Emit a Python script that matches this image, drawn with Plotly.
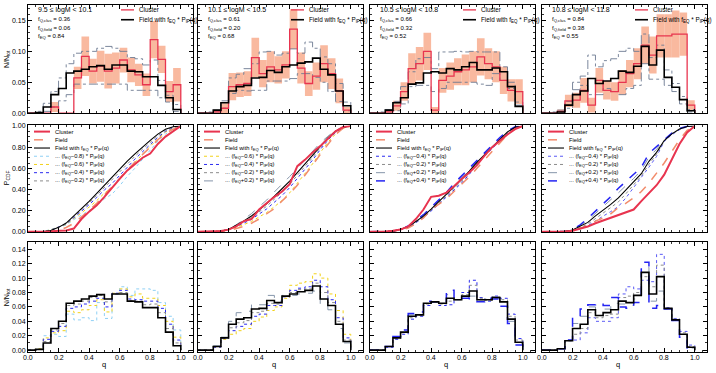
import plotly.graph_objects as go
import numpy as np

W, H = 716, 373
FONT = "Liberation Sans, Arial, sans-serif"

# ---------------- data ----------------
q_edges = [0.0, 0.05, 0.1, 0.15, 0.2, 0.25, 0.3, 0.35, 0.4, 0.45, 0.5,
           0.55, 0.6, 0.65, 0.7, 0.75, 0.8, 0.85, 0.9, 0.95, 1.0]
x_ticks = [0.0, 0.2, 0.4, 0.6, 0.8, 1.0]
x_tick_labels = ["0.0", "0.2", "0.4", "0.6", "0.8", "1.0"]

mass_labels = ["9.5 ≤ logM < 10.1", "10.1 ≤ logM < 10.5",
               "10.5 ≤ logM < 10.8", "10.8 ≤ logM < 11.8"]
fq_clus = [0.36, 0.61, 0.66, 0.84]
fq_field = [0.06, 0.20, 0.32, 0.38]
f_eq = [0.84, 0.68, 0.52, 0.55]

# cluster histograms (N/N_tot) and their errors
clus_hist_1 = [0, 0, 0, 0.010, 0, 0, 0.057, 0.092, 0.068, 0.076, 0.068, 0.073, 0.086, 0.070, 0.062, 0.046, 0.119, 0.087, 0.035, 0.046]
clus_err_1 = [0, 0, 0, 0.008, 0, 0, 0.018, 0.032, 0.020, 0.025, 0.028, 0.025, 0.020, 0.020, 0.018, 0.018, 0.030, 0.022, 0.017, 0.027]
clus_hist_2 = [0, 0, 0.002, 0.008, 0.043, 0.046, 0.048, 0.090, 0.064, 0.075, 0.070, 0.078, 0.136, 0.073, 0.048, 0.060, 0.080, 0.064, 0.036, 0.005]
clus_err_2 = [0, 0, 0.002, 0.008, 0.022, 0.020, 0.020, 0.032, 0.022, 0.025, 0.022, 0.022, 0.032, 0.025, 0.020, 0.022, 0.030, 0.025, 0.020, 0.005]
clus_hist_3 = [0, 0, 0.002, 0.012, 0.035, 0.072, 0.080, 0.100, 0.005, 0.053, 0.060, 0.067, 0.070, 0.075, 0.091, 0.080, 0.075, 0.053, 0.037, 0.035]
clus_err_3 = [0, 0, 0.002, 0.008, 0.015, 0.025, 0.027, 0.030, 0.005, 0.020, 0.022, 0.022, 0.025, 0.025, 0.030, 0.025, 0.025, 0.022, 0.018, 0.020]
clus_hist_4 = [0, 0, 0.003, 0.020, 0.021, 0.037, 0.013, 0.053, 0.037, 0.035, 0.050, 0.064, 0.080, 0.110, 0.094, 0.125, 0.125, 0.128, 0.128, 0.013]
clus_err_4 = [0, 0, 0.003, 0.010, 0.012, 0.020, 0.012, 0.020, 0.015, 0.015, 0.020, 0.022, 0.025, 0.030, 0.030, 0.035, 0.035, 0.038, 0.035, 0.008]

# field-model envelopes (dash-dot)
env_hi_1 = [0, 0.003, 0.016, 0.035, 0.057, 0.080, 0.097, 0.100, 0.100, 0.105, 0.108, 0.105, 0.100, 0.090, 0.088, 0.078, 0.086, 0.053, 0.029, 0.014]
env_lo_1 = [0, 0, 0.003, 0.010, 0.020, 0.030, 0.047, 0.047, 0.047, 0.047, 0.047, 0.047, 0.047, 0.037, 0.037, 0.037, 0.037, 0.025, 0.018, 0.003]
env_hi_2 = [0, 0.002, 0.005, 0.020, 0.057, 0.063, 0.072, 0.080, 0.099, 0.100, 0.094, 0.097, 0.104, 0.097, 0.115, 0.105, 0.091, 0.080, 0.048, 0.018]
env_lo_2 = [0, 0, 0.002, 0.008, 0.032, 0.037, 0.036, 0.037, 0.037, 0.052, 0.052, 0.052, 0.056, 0.064, 0.064, 0.058, 0.050, 0.035, 0.019, 0.004]
env_hi_3 = [0, 0.002, 0.006, 0.019, 0.043, 0.067, 0.088, 0.090, 0.072, 0.099, 0.099, 0.100, 0.099, 0.100, 0.099, 0.099, 0.099, 0.075, 0.050, 0.018]
env_lo_3 = [0, 0, 0.002, 0.004, 0.015, 0.043, 0.045, 0.045, 0.035, 0.040, 0.050, 0.050, 0.050, 0.050, 0.047, 0.045, 0.064, 0.053, 0.040, 0.013]
env_hi_4 = [0, 0.002, 0.005, 0.019, 0.050, 0.060, 0.094, 0.075, 0.085, 0.088, 0.100, 0.105, 0.100, 0.128, 0.090, 0.110, 0.070, 0.048, 0.027, 0.006]
env_lo_4 = [0, 0, 0.002, 0.008, 0.038, 0.045, 0.030, 0.030, 0.040, 0.035, 0.030, 0.040, 0.045, 0.080, 0.055, 0.055, 0.045, 0.035, 0.015, 0.002]

# field with f_EQ * P_IP(q) histograms
model_hist_1 = [0, 0.001, 0.010, 0.030, 0.040, 0.065, 0.068, 0.071, 0.075, 0.077, 0.071, 0.078, 0.078, 0.068, 0.067, 0.059, 0.059, 0.045, 0.025, 0.006]
model_hist_2 = [0, 0, 0.005, 0.017, 0.036, 0.043, 0.045, 0.057, 0.058, 0.069, 0.066, 0.075, 0.078, 0.081, 0.083, 0.089, 0.071, 0.062, 0.036, 0.012]
model_hist_3 = [0, 0, 0.005, 0.017, 0.025, 0.047, 0.049, 0.065, 0.067, 0.065, 0.072, 0.070, 0.075, 0.082, 0.070, 0.070, 0.073, 0.067, 0.043, 0.011]
model_hist_4 = [0, 0, 0.002, 0.013, 0.030, 0.036, 0.056, 0.048, 0.052, 0.056, 0.068, 0.066, 0.076, 0.108, 0.078, 0.102, 0.058, 0.042, 0.022, 0.004]

# variations of f_EQ
var_m08_1 = [0, 0.002, 0.020, 0.022, 0.019, 0.050, 0.042, 0.045, 0.041, 0.066, 0.044, 0.078, 0.088, 0.076, 0.085, 0.085, 0.083, 0.066, 0.047, 0.028]
var_m06_1 = [0, 0.002, 0.017, 0.024, 0.027, 0.054, 0.052, 0.056, 0.062, 0.070, 0.053, 0.079, 0.085, 0.074, 0.078, 0.072, 0.072, 0.062, 0.040, 0.018]
var_m04_1 = [0, 0.001, 0.015, 0.026, 0.033, 0.058, 0.060, 0.064, 0.068, 0.072, 0.060, 0.079, 0.083, 0.071, 0.070, 0.068, 0.068, 0.058, 0.036, 0.014]
var_m02_1 = [0, 0.001, 0.012, 0.028, 0.037, 0.062, 0.064, 0.068, 0.073, 0.076, 0.067, 0.078, 0.080, 0.069, 0.068, 0.063, 0.064, 0.052, 0.030, 0.010]

var_m06_2 = [0, 0, 0.004, 0.015, 0.022, 0.027, 0.030, 0.040, 0.046, 0.055, 0.060, 0.072, 0.090, 0.093, 0.095, 0.106, 0.100, 0.078, 0.055, 0.022]
var_m04_2 = [0, 0, 0.004, 0.016, 0.027, 0.033, 0.036, 0.047, 0.050, 0.062, 0.062, 0.074, 0.083, 0.086, 0.088, 0.097, 0.088, 0.070, 0.045, 0.017]
var_m02_2 = [0, 0, 0.005, 0.017, 0.031, 0.038, 0.041, 0.052, 0.054, 0.065, 0.064, 0.075, 0.080, 0.084, 0.085, 0.093, 0.080, 0.066, 0.040, 0.014]
var_p02_2 = [0, 0, 0.006, 0.018, 0.040, 0.052, 0.054, 0.064, 0.063, 0.076, 0.068, 0.076, 0.076, 0.078, 0.079, 0.082, 0.062, 0.056, 0.030, 0.010]

var_m04_3 = [0, 0, 0.004, 0.015, 0.022, 0.043, 0.047, 0.062, 0.067, 0.062, 0.063, 0.070, 0.080, 0.097, 0.073, 0.068, 0.075, 0.072, 0.050, 0.016]
var_m02_3 = [0, 0, 0.005, 0.016, 0.024, 0.045, 0.048, 0.064, 0.067, 0.064, 0.068, 0.070, 0.077, 0.090, 0.072, 0.069, 0.074, 0.070, 0.047, 0.014]
var_p02_3 = [0, 0, 0.005, 0.018, 0.026, 0.049, 0.051, 0.066, 0.067, 0.066, 0.077, 0.070, 0.073, 0.075, 0.068, 0.071, 0.072, 0.064, 0.040, 0.009]
var_p04_3 = [0, 0, 0.005, 0.019, 0.028, 0.051, 0.053, 0.068, 0.067, 0.068, 0.083, 0.071, 0.072, 0.068, 0.067, 0.072, 0.071, 0.061, 0.037, 0.007]

var_m04_4 = [0, 0, 0.002, 0.013, 0.014, 0.024, 0.045, 0.040, 0.040, 0.045, 0.078, 0.088, 0.085, 0.097, 0.095, 0.133, 0.059, 0.044, 0.026, 0.007]
var_m02_4 = [0, 0, 0.002, 0.013, 0.022, 0.030, 0.052, 0.045, 0.048, 0.050, 0.073, 0.075, 0.080, 0.102, 0.088, 0.118, 0.058, 0.043, 0.024, 0.005]
var_p02_4 = [0, 0, 0.002, 0.014, 0.037, 0.047, 0.060, 0.057, 0.057, 0.065, 0.064, 0.062, 0.071, 0.115, 0.068, 0.082, 0.057, 0.041, 0.020, 0.003]
var_p04_4 = [0, 0, 0.002, 0.014, 0.044, 0.057, 0.063, 0.065, 0.062, 0.073, 0.060, 0.058, 0.066, 0.122, 0.058, 0.062, 0.057, 0.041, 0.018, 0.003]

# cumulative distributions read at the bin edges
clus_cdf_1 = [0, 0, 0, 0.003, 0.010, 0.012, 0.030, 0.120, 0.190, 0.250, 0.330, 0.420, 0.500, 0.580, 0.640, 0.700, 0.740, 0.830, 0.900, 0.950, 1.0]
field_cdf_1 = [0, 0, 0.002, 0.005, 0.012, 0.040, 0.080, 0.140, 0.200, 0.270, 0.350, 0.430, 0.500, 0.580, 0.660, 0.730, 0.800, 0.870, 0.930, 0.970, 1.0]
clus_cdf_2 = [0, 0, 0.002, 0.006, 0.020, 0.050, 0.100, 0.120, 0.210, 0.270, 0.330, 0.380, 0.450, 0.620, 0.680, 0.750, 0.810, 0.880, 0.950, 0.990, 1.0]
field_cdf_2 = [0, 0, 0.002, 0.005, 0.010, 0.030, 0.050, 0.080, 0.120, 0.170, 0.220, 0.290, 0.360, 0.440, 0.530, 0.630, 0.730, 0.830, 0.920, 0.980, 1.0]
clus_cdf_3 = [0, 0, 0.002, 0.010, 0.020, 0.050, 0.120, 0.210, 0.330, 0.340, 0.370, 0.430, 0.500, 0.560, 0.630, 0.720, 0.800, 0.860, 0.920, 0.970, 1.0]
field_cdf_3 = [0, 0, 0.002, 0.006, 0.015, 0.035, 0.075, 0.130, 0.210, 0.260, 0.310, 0.380, 0.450, 0.520, 0.600, 0.680, 0.760, 0.840, 0.920, 0.980, 1.0]
clus_cdf_4 = [0, 0, 0, 0.003, 0.010, 0.030, 0.050, 0.080, 0.105, 0.130, 0.160, 0.185, 0.210, 0.290, 0.370, 0.440, 0.540, 0.680, 0.830, 0.940, 1.0]
field_cdf_4 = [0, 0, 0.001, 0.004, 0.010, 0.030, 0.060, 0.100, 0.130, 0.170, 0.230, 0.270, 0.320, 0.380, 0.460, 0.550, 0.650, 0.760, 0.870, 0.960, 1.0]

clus_hists = [clus_hist_1, clus_hist_2, clus_hist_3, clus_hist_4]
clus_errs = [clus_err_1, clus_err_2, clus_err_3, clus_err_4]
env_his = [env_hi_1, env_hi_2, env_hi_3, env_hi_4]
env_los = [env_lo_1, env_lo_2, env_lo_3, env_lo_4]
model_hists = [model_hist_1, model_hist_2, model_hist_3, model_hist_4]
clus_cdfs = [clus_cdf_1, clus_cdf_2, clus_cdf_3, clus_cdf_4]
field_cdfs = [field_cdf_1, field_cdf_2, field_cdf_3, field_cdf_4]

# variation definitions per column: (label offset, data, colour, dash, width)
LB, YE, BL, GR, GD, BD = "#8fd0f5", "#f2d21b", "#2b2bf0", "#8c8c8c", "#8595aa", "#2424f2"
variations = [
    [("−0.8", var_m08_1, LB, "dot", 1.0), ("−0.6", var_m06_1, YE, "dot", 1.0),
     ("−0.4", var_m04_1, BL, "dot", 1.0), ("−0.2", var_m02_1, GR, "dot", 1.0)],
    [("−0.6", var_m06_2, YE, "dot", 1.0), ("−0.4", var_m04_2, BL, "dot", 1.0),
     ("−0.2", var_m02_2, GR, "dot", 1.0), ("+0.2", var_p02_2, GD, "dash", 1.0)],
    [("−0.4", var_m04_3, BL, "dot", 1.0), ("−0.2", var_m02_3, GR, "dot", 1.0),
     ("+0.2", var_p02_3, GD, "dash", 1.0), ("+0.4", var_p04_3, BD, "dash", 1.5)],
    [("−0.4", var_m04_4, "#5a5af5", "dot", 1.0), ("−0.2", var_m02_4, GR, "dot", 1.0),
     ("+0.2", var_p02_4, GD, "dash", 1.0), ("+0.4", var_p04_4, BD, "dash", 1.5)],
]

RED = "#e8344f"
SALMON_FILL = "#f9b99f"
SALMON = "#f28c6c"
SLATE = "#6d7b92"

# ---------------- layout geometry (pixels) ----------------
col_px = [(28, 193), (198, 363), (370, 535), (542, 707)]
row_px = [(2, 112), (124.5, 233), (243, 355)]

fig = go.Figure()

def axname(r, c):
    k = r * 4 + c + 1
    return ("x" if k == 1 else f"x{k}"), ("y" if k == 1 else f"y{k}")

def step_xy(vals):
    xs = list(q_edges[:-1]) + [q_edges[-1]]
    ys = list(vals) + [0.0]
    return xs, ys

def cdf_of(vals):
    c = np.concatenate([[0.0], np.cumsum(vals)])
    return list(c / c[-1])

centers = [(q_edges[i] + q_edges[i + 1]) / 2 for i in range(20)]

for c in range(4):
    # ---------- top row ----------
    xa, ya = axname(0, c)
    v = clus_hists[c]; e = clus_errs[c]
    idx = [i for i in range(20) if e[i] > 0]
    fig.add_trace(go.Bar(x=[centers[i] for i in idx], y=[2 * e[i] for i in idx],
                         base=[max(v[i] - e[i], 0) for i in idx], width=0.05,
                         marker=dict(color=SALMON_FILL, line=dict(width=0)),
                         xaxis=xa, yaxis=ya, showlegend=False, hoverinfo="skip"))
    for env in (env_his[c], env_los[c]):
        sx, sy = step_xy(env)
        fig.add_trace(go.Scatter(x=sx, y=sy, mode="lines", line=dict(color=SLATE, width=0.9, dash="dashdot", shape="hv"),
                                 xaxis=xa, yaxis=ya, showlegend=False))
    sx, sy = step_xy(v)
    fig.add_trace(go.Scatter(x=sx, y=sy, mode="lines", line=dict(color=RED, width=1.3, shape="hv"),
                             xaxis=xa, yaxis=ya, showlegend=False))
    sx, sy = step_xy(model_hists[c])
    fig.add_trace(go.Scatter(x=sx, y=sy, mode="lines", line=dict(color="black", width=1.6, shape="hv"),
                             xaxis=xa, yaxis=ya, showlegend=False))

    # ---------- middle row ----------
    xa, ya = axname(1, c)
    for lab, data, col, dash, wd in variations[c]:
        fig.add_trace(go.Scatter(x=q_edges, y=cdf_of(data), mode="lines",
                                 line=dict(color=col, width=wd, dash=dash),
                                 xaxis=xa, yaxis=ya, showlegend=False))
    fig.add_trace(go.Scatter(x=q_edges, y=field_cdfs[c], mode="lines",
                             line=dict(color=SALMON, width=1.5, dash="dash"),
                             xaxis=xa, yaxis=ya, showlegend=False))
    fig.add_trace(go.Scatter(x=q_edges, y=cdf_of(model_hists[c]), mode="lines",
                             line=dict(color="black", width=1.1),
                             xaxis=xa, yaxis=ya, showlegend=False))
    fig.add_trace(go.Scatter(x=q_edges, y=clus_cdfs[c], mode="lines",
                             line=dict(color=RED, width=2.0),
                             xaxis=xa, yaxis=ya, showlegend=False))

    # ---------- bottom row ----------
    xa, ya = axname(2, c)
    for lab, data, col, dash, wd in variations[c]:
        sx, sy = step_xy(data)
        fig.add_trace(go.Scatter(x=sx, y=sy, mode="lines",
                                 line=dict(color=col, width=wd, dash=dash, shape="hv"),
                                 xaxis=xa, yaxis=ya, showlegend=False))
    sx, sy = step_xy(model_hists[c])
    fig.add_trace(go.Scatter(x=sx, y=sy, mode="lines", line=dict(color="black", width=1.6, shape="hv"),
                             xaxis=xa, yaxis=ya, showlegend=False))

# ---------------- axes ----------------
layout = dict(width=W, height=H, margin=dict(l=0, r=0, t=0, b=0),
              paper_bgcolor="white", plot_bgcolor="white", barmode="overlay",
              showlegend=False, font=dict(family=FONT, size=7, color="black"))

yspecs = [dict(range=[0, 0.175], dtick=0.05, minor=0.01),
          dict(range=[-0.005, 1.005], dtick=0.2, minor=0.05),
          dict(range=[-0.003, 0.15], dtick=0.02, minor=0.01)]

for r in range(3):
    for c in range(4):
        k = r * 4 + c + 1
        xk = "xaxis" if k == 1 else f"xaxis{k}"
        yk = "yaxis" if k == 1 else f"yaxis{k}"
        xa, ya = axname(r, c)
        x0, x1 = col_px[c]
        y0, y1 = row_px[r]
        common = dict(showline=True, linecolor="black", linewidth=1, mirror="ticks",
                      ticks="inside", ticklen=4, tickwidth=1, tickcolor="black",
                      showgrid=False, zeroline=False,
                      tickfont=dict(size=7, family=FONT, color="black"))
        layout[xk] = dict(common, domain=[x0 / W, x1 / W], anchor=ya, range=[0, 1.08],
                          tickvals=x_ticks, showticklabels=False,
                          minor=dict(dtick=0.05, tick0=0, ticks="inside", ticklen=2, tickcolor="black", tickwidth=0.8))
        ys = yspecs[r]
        layout[yk] = dict(common, domain=[1 - y1 / H, 1 - y0 / H], anchor=xa, range=ys["range"],
                          tick0=0, dtick=ys["dtick"], tickformat=".2f", showticklabels=(c == 0),
                          minor=dict(dtick=ys["minor"], tick0=0, ticks="inside", ticklen=2, tickcolor="black", tickwidth=0.8))

# ---------------- legends & labels ----------------
shapes, annotations = [], []

def add_text(x, y, text, size, anchor="left", angle=0):
    annotations.append(dict(x=x / W, y=1 - y / H, xref="paper", yref="paper", text=text,
                            showarrow=False, xanchor=anchor, yanchor="middle", textangle=angle,
                            font=dict(size=size, family=FONT, color="black")))

def add_key(x0, x1, y, color, width, dash="solid"):
    shapes.append(dict(type="line", xref="paper", yref="paper", x0=x0 / W, x1=x1 / W,
                       y0=1 - y / H, y1=1 - y / H, line=dict(color=color, width=width, dash=dash)))

FEQ = "f<sub>EQ</sub>"
PIP = "P<sub>IP</sub>(q)"
for c in range(4):
    L = col_px[c][0]
    # info text in the top panels
    add_text(L + 8, 7.5, mass_labels[c], 7)
    add_text(L + 8, 17, f"f<sub>Q,clus</sub> = {fq_clus[c]:.2f}", 6)
    add_text(L + 8, 25.5, f"f<sub>Q,field</sub> = {fq_field[c]:.2f}", 6)
    add_text(L + 8, 34, f"{FEQ} = {f_eq[c]:.2f}", 6)
    # top legends
    add_key(L + 93, L + 106, 7, RED, 1.3)
    add_text(L + 109, 7, "Cluster", 6.3)
    add_key(L + 93, L + 106, 17, "black", 1.6)
    add_text(L + 109, 17, f"Field with {FEQ} * {PIP}", 6.3)
    # middle legends
    entries = [("Cluster", RED, 2.0, "solid"), ("Field", SALMON, 1.5, "dash"),
               (f"Field with {FEQ} * {PIP}", "black", 1.1, "solid")]
    for lab, data, col, dash, wd in variations[c]:
        entries.append((f"... ({FEQ}{lab}) * {PIP}", col, wd, dash))
    for i, (txt, col, wd, dash) in enumerate(entries):
        yy = 130.7 + 8.35 * i
        add_key(L + 6, L + 22, yy, col, wd, dash)
        add_text(L + 25, yy, txt, 5.8)
    # x tick labels of the bottom row, placed through the axis scale
    xa, _ = axname(2, c)
    for tv, tl in zip(x_ticks, x_tick_labels):
        annotations.append(dict(x=tv, y=1 - 360.5 / H, xref=xa, yref="paper", text=tl,
                                showarrow=False, xanchor="center", yanchor="middle",
                                font=dict(size=7, family=FONT, color="black")))
    annotations.append(dict(x=0.5, y=1 - 367.5 / H, xref=xa, yref="paper", text="q",
                            showarrow=False, xanchor="center", yanchor="middle",
                            font=dict(size=7.5, family=FONT, color="black")))

add_text(7, 57, "N/N<sub>tot</sub>", 7, anchor="center", angle=-90)
add_text(7, 178, "P<sub>CDF</sub>", 7, anchor="center", angle=-90)
add_text(7, 299, "N/N<sub>tot</sub>", 7, anchor="center", angle=-90)

layout["shapes"] = shapes
layout["annotations"] = annotations
fig.update_layout(**layout)

# remove the browser's default page margin so the figure fills the window exactly
fig.write_html("out.html", config={"displayModeBar": False, "staticPlot": True},
               post_script="document.body.style.margin='0px';document.body.style.overflow='hidden';")
